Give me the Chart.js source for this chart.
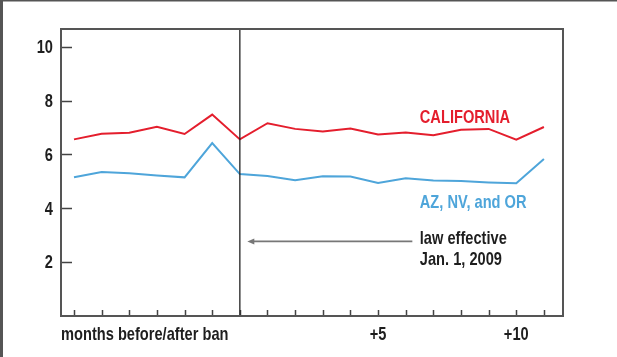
<!DOCTYPE html>
<html>
<head>
<meta charset="utf-8">
<script src="https://cdn.jsdelivr.net/npm/chart.js@4.4.0/dist/chart.umd.min.js"></script>
<style>
  body { margin: 0; background: #fff; }
  #wrap { position: relative; width: 617px; height: 357px; }
</style>
</head>
<body>
<div id="wrap"><canvas id="banChart"></canvas></div>
<script>
// months relative to the ban (0 = Jan. 2009)
const months = [-6, -5, -4, -3, -2, -1, 0, 1, 2, 3, 4, 5, 6, 7, 8, 9, 10, 11];
const california = [6.56, 6.77, 6.81, 7.03, 6.76, 7.48, 6.56, 7.16, 6.95, 6.85, 6.96, 6.74, 6.82, 6.71, 6.92, 6.95, 6.55, 7.02];
const neighbours = [5.15, 5.35, 5.30, 5.22, 5.15, 6.42, 5.27, 5.20, 5.04, 5.19, 5.18, 4.94, 5.12, 5.03, 5.01, 4.96, 4.93, 5.83];
const yTickValues = [2, 4, 6, 8, 10];
const xTickLabels = { 5: '+5', 10: '+10' };
const xTitle = 'months before/after ban';

const FONT = 'bold 19px "Liberation Sans", Arial, sans-serif';
const SQUEEZE = 0.77; // fake a condensed face
const RED = '#e41e2d';
const BLUE = '#4ea5da';
const INK = '#1e1e1e';

function toPoints(vals) {
  return vals.map((v, i) => ({ x: months[i], y: v }));
}

function narrowText(ctx, text, x, y, align, baseline) {
  ctx.save();
  ctx.translate(x, y);
  ctx.scale(SQUEEZE, 1);
  ctx.font = FONT;
  ctx.textAlign = align || 'left';
  ctx.textBaseline = baseline || 'alphabetic';
  ctx.fillText(text, 0, 0);
  ctx.restore();
}

// box, inner ticks, labels, ban line and notes
const decor = {
  id: 'decor',
  afterDatasetsDraw(chart) {
    const { ctx, chartArea: a, scales: { x, y } } = chart;
    ctx.save();

    // outer frame strips
    ctx.fillStyle = '#555';
    ctx.fillRect(0, 0, 3, 357);
    ctx.fillRect(0, 0, 617, 1.5);

    // ticks pointing inward
    ctx.strokeStyle = '#444';
    ctx.lineWidth = 1.5;
    ctx.beginPath();
    y.ticks.forEach(t => {
      const py = Math.round(y.getPixelForValue(t.value)) + 0.5;
      ctx.moveTo(a.left, py);
      ctx.lineTo(a.left + 11, py);
    });
    x.ticks.forEach(t => {
      const px = Math.round(x.getPixelForValue(t.value)) + 0.5;
      ctx.moveTo(px, a.bottom);
      ctx.lineTo(px, a.bottom - 6);
    });
    ctx.stroke();

    // tick labels
    ctx.fillStyle = INK;
    y.ticks.forEach(t => {
      narrowText(ctx, String(t.value), a.left - 8, y.getPixelForValue(t.value) + 1, 'right', 'middle');
    });
    x.ticks.forEach(t => {
      const lbl = xTickLabels[t.value];
      if (lbl) narrowText(ctx, lbl, x.getPixelForValue(t.value), a.bottom + 24, 'center');
    });
    narrowText(ctx, xTitle, a.left, a.bottom + 24, 'left');

    // ban line
    const x0 = x.getPixelForValue(0);
    ctx.strokeStyle = '#222';
    ctx.lineWidth = 1.3;
    ctx.beginPath();
    ctx.moveTo(x0, a.top);
    ctx.lineTo(x0, a.bottom);
    ctx.stroke();

    // plot box
    ctx.strokeStyle = '#555';
    ctx.lineWidth = 2;
    ctx.strokeRect(a.left, a.top, a.right - a.left, a.bottom - a.top);

    // arrow
    const ay = y.getPixelForValue(2.77);
    const ax1 = x.getPixelForValue(6.24);
    const ax2 = x.getPixelForValue(0.27);
    ctx.strokeStyle = '#777';
    ctx.lineWidth = 1.6;
    ctx.beginPath();
    ctx.moveTo(ax1, ay);
    ctx.lineTo(ax2 + 4, ay);
    ctx.stroke();
    ctx.fillStyle = '#777';
    ctx.beginPath();
    ctx.moveTo(ax2, ay);
    ctx.lineTo(ax2 + 7, ay - 3);
    ctx.lineTo(ax2 + 7, ay + 3);
    ctx.closePath();
    ctx.fill();

    // notes
    const tx = x.getPixelForValue(6.51);
    ctx.fillStyle = RED;
    narrowText(ctx, 'CALIFORNIA', tx, y.getPixelForValue(7.18));
    ctx.fillStyle = BLUE;
    narrowText(ctx, 'AZ, NV, and OR', tx, y.getPixelForValue(4.01));
    ctx.fillStyle = INK;
    narrowText(ctx, 'law effective', tx, y.getPixelForValue(2.67));
    narrowText(ctx, 'Jan. 1, 2009', tx, y.getPixelForValue(1.89));

    ctx.restore();
  }
};

const chart = new Chart(document.getElementById('banChart'), {
  type: 'line',
  data: {
    datasets: [
      {
        label: 'CALIFORNIA',
        data: toPoints(california),
        borderColor: RED,
        borderWidth: 2,
        pointRadius: 0,
        tension: 0
      },
      {
        label: 'AZ, NV, and OR',
        data: toPoints(neighbours),
        borderColor: BLUE,
        borderWidth: 2,
        pointRadius: 0,
        tension: 0
      }
    ]
  },
  options: {
    responsive: true,
    maintainAspectRatio: false,
    animation: false,
    layout: { padding: { top: 29, right: 54, left: 0, bottom: 0 } },
    plugins: {
      legend: { display: false },
      tooltip: { enabled: false }
    },
    scales: {
      x: {
        type: 'linear',
        min: -6.47,
        max: 11.69,
        afterFit: s => { s.height = 41; },
        afterBuildTicks: s => { s.ticks = months.map(m => ({ value: m })); },
        grid: { display: false, drawTicks: false },
        border: { display: false },
        ticks: { display: false, autoSkip: false }
      },
      y: {
        min: 0,
        max: 10.66,
        afterFit: s => { s.width = 61; },
        afterBuildTicks: s => { s.ticks = yTickValues.map(v => ({ value: v })); },
        grid: { display: false, drawTicks: false },
        border: { display: false },
        ticks: { display: false }
      }
    }
  },
  plugins: [decor]
});
</script>
</body>
</html>
